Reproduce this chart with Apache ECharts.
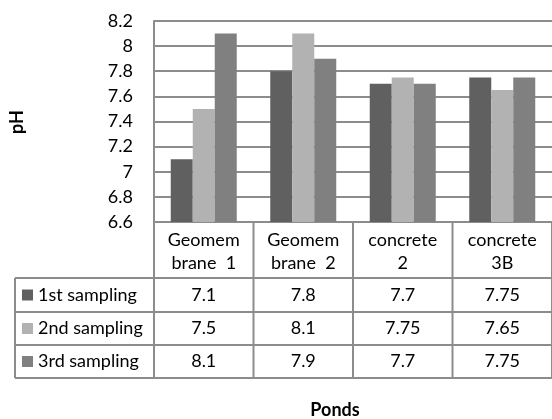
<!DOCTYPE html>
<html><head><meta charset="utf-8">
<script src="https://cdn.jsdelivr.net/npm/echarts@6/dist/echarts.min.js"></script>
<style>html,body{margin:0;padding:0;background:#fff}#c{width:552px;height:419px}</style>
</head><body><div id="c"></div>
<script>
const categories = ['Geomem\nbrane  1', 'Geomem\nbrane  2', 'concrete\n2', 'concrete\n3B'];
const seriesNames = ['1st sampling', '2nd sampling', '3rd sampling'];
const firstSampling = [7.1, 7.8, 7.7, 7.75];
const secondSampling = [7.5, 8.1, 7.75, 7.65];
const thirdSampling = [8.1, 7.9, 7.7, 7.75];
const yMin = 6.6, yMax = 8.2, yStep = 0.2;
const yTitle = 'pH';
const xTitle = 'Ponds';

const seriesData = [firstSampling, secondSampling, thirdSampling];
const colors = ['#606060', '#b2b2b2', '#808080'];
const FONT = 'Lato';
const FS = 18;
const LINE = '#8c8c8c';

const chart = echarts.init(document.getElementById('c'), null, {renderer: 'canvas'});
const option = {
  animation: false,
  backgroundColor: '#fff',
  grid: {left: 154, top: 21, width: 401, height: 201, containLabel: false},
  xAxis: {
    type: 'category', data: categories,
    axisLine: {show: true, lineStyle: {color: LINE, width: 2}},
    axisTick: {show: false},
    axisLabel: {fontFamily: FONT, fontSize: FS, color: '#000', lineHeight: 23, margin: 7, interval: 0}
  },
  yAxis: {
    type: 'value', min: yMin, max: yMax, interval: yStep,
    axisLine: {show: true, lineStyle: {color: LINE, width: 2}},
    axisTick: {show: false},
    splitLine: {lineStyle: {color: LINE, width: 2}},
    axisLabel: {fontFamily: FONT, fontSize: FS, color: '#000', margin: 21,
      formatter: v => String(+v.toFixed(1))}
  },
  series: seriesData.map((d, i) => ({
    type: 'bar', name: seriesNames[i], data: d,
    barWidth: 22, barGap: '0%',
    itemStyle: {color: colors[i]}
  }))
};
chart.setOption(option);

// table built from the chart's own category scale
const c0 = chart.convertToPixel({xAxisIndex: 0}, 0);
const c1 = chart.convertToPixel({xAxisIndex: 0}, 1);
const step = c1 - c0;
const bounds = [];
for (let i = 0; i <= categories.length; i++) bounds.push(c0 - step / 2 + i * step);
const axisY = chart.convertToPixel({yAxisIndex: 0}, yMin);
const headerBottom = 278;
const rowBounds = [278, 312, 345, 378];
const tableLeft = 15;
const g = [];
const ls = {stroke: LINE, lineWidth: 2};
bounds.forEach(x => g.push({type: 'line', shape: {x1: x, y1: axisY, x2: x, y2: rowBounds[3]}, style: ls}));
g.push({type: 'line', shape: {x1: tableLeft, y1: headerBottom, x2: tableLeft, y2: rowBounds[3]}, style: ls});
rowBounds.forEach(y => g.push({type: 'line', shape: {x1: tableLeft, y1: y, x2: bounds[bounds.length - 1], y2: y}, style: ls}));
seriesData.forEach((d, r) => {
  const cy = (rowBounds[r] + rowBounds[r + 1]) / 2;
  g.push({type: 'rect', shape: {x: 22, y: cy - 5.5, width: 11, height: 11}, style: {fill: colors[r]}});
  g.push({type: 'text', x: 38, y: cy, style: {text: seriesNames[r], font: FS + 'px ' + FONT, fill: '#000', verticalAlign: 'middle', align: 'left'}});
  d.forEach((v, i) => {
    const cx = chart.convertToPixel({xAxisIndex: 0}, i);
    g.push({type: 'text', x: cx, y: cy, style: {text: String(v), font: FS + 'px ' + FONT, fill: '#000', verticalAlign: 'middle', align: 'center'}});
  });
});
g.push({type: 'text', x: 17, y: 122, rotation: Math.PI / 2, style: {text: yTitle, font: 'bold 18px ' + FONT, fill: '#000', align: 'center', verticalAlign: 'middle'}});
g.push({type: 'text', x: 335, y: 410, style: {text: xTitle, font: 'bold 18px ' + FONT, fill: '#000', align: 'center', verticalAlign: 'middle'}});
chart.setOption({graphic: {elements: g}});
</script></body></html>
